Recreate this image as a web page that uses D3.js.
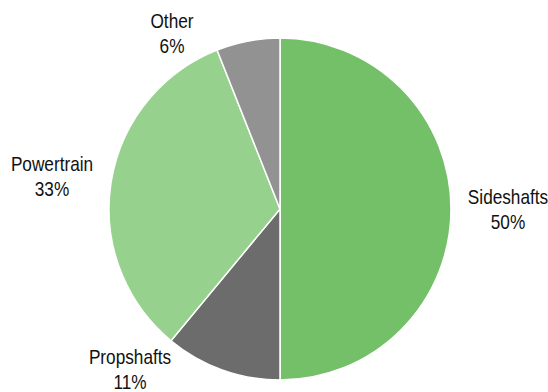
<!DOCTYPE html>
<html>
<head>
<meta charset="utf-8">
<script src="https://cdn.jsdelivr.net/npm/d3@7"></script>
<style>
  body { margin: 0; background: #fff; }
  text { font-family: "Liberation Sans", Arial, sans-serif; font-size: 21px; fill: #111; }
</style>
</head>
<body>
<svg id="svg" width="548" height="392"></svg>
<script>
var categories = ["Sideshafts", "Propshafts", "Powertrain", "Other"];
var shares = [50, 11, 33, 6];
var colours = ["#74c069", "#6c6c6c", "#97d18e", "#929292"];
// where excel put each label (centre of the two lines)
var labelSpots = [[508, 209], [130, 369], [52, 176], [172, 33]];

var svg = d3.select("#svg");
var cx = 280, cy = 209, r = 171;

var pie = d3.pie().sort(null).value(function(d) { return d; });
var arc = d3.arc().innerRadius(0).outerRadius(r);

var g = svg.append("g").attr("transform", "translate(" + cx + "," + cy + ")");

g.selectAll("path")
  .data(pie(shares))
  .join("path")
  .attr("d", arc)
  .attr("fill", function(d, i) { return colours[i]; })
  .attr("stroke", "#fff")
  .attr("stroke-width", 1.5);

// no narrow font installed, so squeeze Liberation Sans instead
var labels = svg.selectAll("g.lbl")
  .data(categories)
  .join("g")
  .attr("class", "lbl")
  .attr("transform", function(d, i) {
    return "translate(" + labelSpots[i][0] + "," + labelSpots[i][1] + ") scale(0.82,1)";
  })
  .append("text")
  .attr("text-anchor", "middle");

labels.append("tspan")
  .attr("x", 0)
  .attr("dy", "-0.25em")
  .text(function(d) { return d; });
labels.append("tspan")
  .attr("x", 0)
  .attr("dy", "1.2em")
  .text(function(d, i) { return shares[i] + "%"; });
</script>
</body>
</html>
